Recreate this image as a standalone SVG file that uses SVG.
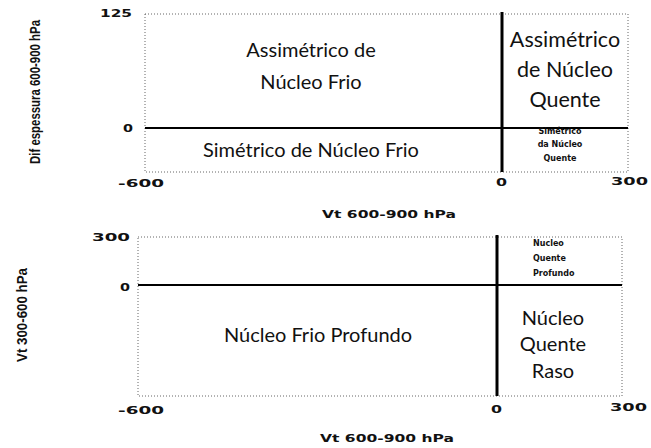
<svg xmlns="http://www.w3.org/2000/svg" width="651" height="448" viewBox="0 0 651 448">
<style>
.bg{fill:#ffffff}
.frame{fill:none;stroke:#666;stroke-width:1;stroke-dasharray:1 2}
.axis0{stroke:#000;stroke-width:2}
.axisv{stroke:#000;stroke-width:3}
.lab{font-family:Lato,"Liberation Sans",sans-serif;font-size:20px;fill:#111;text-anchor:middle}
.big{font-size:21.5px}
.sm{font-family:"DejaVu Sans",sans-serif;font-size:8px;font-weight:bold;fill:#111}
.num{font-family:"DejaVu Sans",sans-serif;font-size:11px;font-weight:bold;fill:#111}
.ylab{font-family:"Liberation Sans",sans-serif;font-size:14px;font-weight:bold;fill:#111;text-anchor:middle}
</style>
<rect class="bg" x="0" y="0" width="651" height="448"/>
<g id="connectors">
  <rect class="frame" x="145" y="14" width="483" height="158"/>
  <line class="axis0" x1="145" y1="128" x2="628" y2="128"/>
  <line class="axisv" x1="502" y1="12" x2="502" y2="172"/>
  <rect class="frame" x="138" y="237" width="484" height="159"/>
  <line class="axis0" x1="138" y1="285" x2="622" y2="285"/>
  <line class="axisv" x1="497" y1="235" x2="497" y2="396"/>
</g>
<g id="chart1-axes">
  <text class="ylab" transform="translate(40,92) rotate(-90)" textLength="144" lengthAdjust="spacingAndGlyphs">Dif espessura 600-900 hPa</text>
  <text class="num" x="100" y="17" textLength="32" lengthAdjust="spacingAndGlyphs">125</text>
  <text class="num" x="123" y="132" textLength="10" lengthAdjust="spacingAndGlyphs">0</text>
  <text class="num" x="118" y="187" textLength="46" lengthAdjust="spacingAndGlyphs">-600</text>
  <text class="num" x="496" y="186" textLength="11" lengthAdjust="spacingAndGlyphs">0</text>
  <text class="num" x="611" y="185" textLength="37" lengthAdjust="spacingAndGlyphs">300</text>
  <text class="num" x="322" y="218" textLength="134" lengthAdjust="spacingAndGlyphs">Vt 600-900 hPa</text>
</g>
<g id="node-assim-frio">
  <text class="lab" x="311" y="57">Assimétrico de</text>
  <text class="lab" x="311" y="89">Núcleo Frio</text>
</g>
<g id="node-assim-quente">
  <text class="lab big" x="565" y="47">Assimétrico</text>
  <text class="lab big" x="565" y="77">de Núcleo</text>
  <text class="lab big" x="565" y="107">Quente</text>
</g>
<g id="node-sim-frio">
  <text class="lab" x="311" y="157">Simétrico de Núcleo Frio</text>
</g>
<g id="node-sim-quente">
  <text class="sm" x="560" y="134" text-anchor="middle">Simétrico</text>
  <text class="sm" x="560" y="147" text-anchor="middle">da Núcleo</text>
  <text class="sm" x="560" y="161" text-anchor="middle">Quente</text>
</g>
<g id="chart2-axes">
  <text class="ylab" transform="translate(27,315) rotate(-90)" textLength="94" lengthAdjust="spacingAndGlyphs">Vt 300-600 hPa</text>
  <text class="num" x="92" y="241" textLength="38" lengthAdjust="spacingAndGlyphs">300</text>
  <text class="num" x="120" y="291" textLength="10" lengthAdjust="spacingAndGlyphs">0</text>
  <text class="num" x="118" y="414" textLength="46" lengthAdjust="spacingAndGlyphs">-600</text>
  <text class="num" x="491" y="413" textLength="11" lengthAdjust="spacingAndGlyphs">0</text>
  <text class="num" x="610" y="411" textLength="37" lengthAdjust="spacingAndGlyphs">300</text>
  <text class="num" x="320" y="442" textLength="134" lengthAdjust="spacingAndGlyphs">Vt 600-900 hPa</text>
</g>
<g id="node-frio-profundo">
  <text class="lab" x="318" y="342">Núcleo Frio Profundo</text>
</g>
<g id="node-quente-profundo">
  <text class="sm" x="533" y="246">Nucleo</text>
  <text class="sm" x="533" y="261">Quente</text>
  <text class="sm" x="533" y="276">Profundo</text>
</g>
<g id="node-quente-raso">
  <text class="lab" x="553" y="325">Núcleo</text>
  <text class="lab" x="553" y="351">Quente</text>
  <text class="lab" x="553" y="378">Raso</text>
</g>
</svg>
